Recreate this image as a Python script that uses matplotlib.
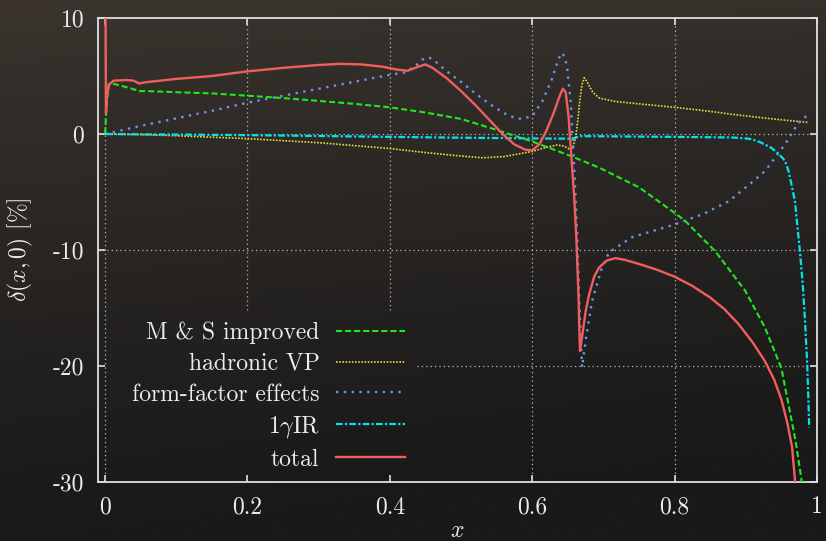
import numpy as np
import matplotlib
matplotlib.use("Agg")
import matplotlib.pyplot as plt

# ---------------- data ----------------
ms_x = [0.0, 0.002, 0.005, 0.01, 0.02, 0.035, 0.048, 0.06, 0.1, 0.15, 0.2, 0.25, 0.3, 0.35,
        0.4, 0.45, 0.5, 0.55, 0.6, 0.624, 0.65, 0.694, 0.75, 0.8, 0.815, 0.857, 0.899, 0.927,
        0.95, 0.959, 0.97, 0.98]
ms_y = [0.0, 2.5, 4.3, 4.35, 4.2, 3.95, 3.7, 3.7, 3.6, 3.5, 3.3, 3.1, 2.85, 2.6,
        2.3, 1.85, 1.3, 0.35, -0.65, -1.2, -1.8, -2.9, -4.6, -6.8, -7.5, -10.1, -13.5, -16.7,
        -20.2, -23.0, -26.5, -30.5]

vp_x = [0.0, 0.05, 0.1, 0.2, 0.3, 0.4, 0.45, 0.5, 0.53, 0.56, 0.6, 0.62, 0.635, 0.645,
        0.652, 0.657, 0.661, 0.664, 0.667, 0.67, 0.673, 0.677, 0.685, 0.694, 0.717, 0.75,
        0.8, 0.85, 0.88, 0.93, 0.987]
vp_y = [0.0, -0.05, -0.15, -0.4, -0.75, -1.25, -1.6, -1.9, -2.05, -1.95, -1.5, -1.15, -0.95, -1.05,
        -1.3, -1.2, -0.3, 1.2, 3.0, 4.3, 4.85, 4.5, 3.6, 3.1, 2.8, 2.6,
        2.3, 1.95, 1.7, 1.35, 1.0]

ff_x = [0.0, 0.05, 0.1, 0.15, 0.2, 0.25, 0.3, 0.35, 0.4, 0.42, 0.435, 0.445, 0.455, 0.465,
        0.48, 0.5, 0.52, 0.54, 0.56, 0.575, 0.585, 0.6, 0.614, 0.628, 0.637, 0.642, 0.646,
        0.649, 0.654, 0.659, 0.663, 0.666, 0.67, 0.675, 0.684, 0.698, 0.708, 0.74, 0.8,
        0.84, 0.876, 0.9, 0.927, 0.955, 0.973, 0.985]
ff_y = [0.0, 0.7, 1.35, 2.0, 2.7, 3.3, 3.9, 4.5, 5.1, 5.3, 5.8, 6.4, 6.6, 6.2,
        5.4, 4.5, 3.5, 2.6, 1.8, 1.4, 1.3, 1.55, 2.8, 4.8, 6.5, 7.0, 6.6,
        5.7, 2.8, -2.9, -8.6, -14.4, -20.1, -17.8, -14.4, -11.5, -10.2, -8.9, -7.8,
        -6.9, -5.8, -4.6, -3.2, -0.9, 0.9, 1.55]

ir_x = [0.0, 0.1, 0.2, 0.3, 0.4, 0.5, 0.6, 0.65, 0.66, 0.666, 0.7, 0.8, 0.88, 0.9, 0.908,
        0.92, 0.936, 0.946, 0.955, 0.96, 0.964, 0.969, 0.976, 0.98, 0.983, 0.986, 0.988, 0.989]
ir_y = [0.0, -0.05, -0.1, -0.17, -0.25, -0.32, -0.38, -0.4, -0.35, -0.18, -0.2, -0.25, -0.3, -0.38, -0.45,
        -0.7, -1.2, -1.7, -2.3, -3.2, -4.3, -5.8, -10.1, -13.0, -15.9, -19.5, -23.0, -25.3]

tot_x = [0.0005, 0.0012, 0.003, 0.006, 0.012, 0.03, 0.04, 0.048, 0.055, 0.1, 0.15, 0.2, 0.25,
         0.3, 0.33, 0.36, 0.39, 0.41, 0.425, 0.44, 0.45, 0.46, 0.48, 0.5, 0.52, 0.54, 0.56,
         0.575, 0.59, 0.6, 0.61, 0.62, 0.63, 0.638, 0.643, 0.647, 0.651, 0.655, 0.659, 0.662,
         0.665, 0.667, 0.67, 0.675, 0.68, 0.687, 0.694, 0.705, 0.717, 0.73, 0.75, 0.775, 0.8,
         0.825, 0.85, 0.87, 0.89, 0.91, 0.927, 0.94, 0.95, 0.958, 0.965, 0.97]
tot_y = [12.0, 1.8, 3.5, 4.3, 4.6, 4.65, 4.6, 4.35, 4.45, 4.75, 5.0, 5.4, 5.7,
         5.95, 6.05, 6.0, 5.8, 5.55, 5.45, 5.8, 6.0, 5.7, 4.8, 3.7, 2.5, 1.2, -0.1,
         -0.9, -1.35, -1.4, -0.9, 0.3, 1.8, 3.2, 3.9, 3.6, 1.5, -2.0, -5.5, -9.0,
         -14.0, -18.7, -17.5, -15.3, -13.8, -12.3, -11.5, -10.9, -10.7, -10.85, -11.2, -11.7, -12.3,
         -13.1, -14.1, -15.1, -16.4, -18.0, -19.6, -21.2, -22.9, -24.8, -27.0, -30.5]

labels = ["M & S improved", "hadronic VP", "form-factor effects", r"1$\gamma$IR", "total"]
x_ticks = [0, 0.2, 0.4, 0.6, 0.8, 1.0]
x_ticklabels = ["0", "0.2", "0.4", "0.6", "0.8", "1"]
y_ticks = [-30, -20, -10, 0, 10]
y_ticklabels = ["-30", "-20", "-10", "0", "10"]

# ---------------- style ----------------
plt.rcParams['font.family'] = ['cmr10', 'DejaVu Serif']
plt.rcParams['mathtext.fontset'] = 'cm'
plt.rcParams['axes.unicode_minus'] = False
FS = 17
TXT = '#ececec'
GRID = dict(color='#b8b8b8', lw=0.9, dashes=(1, 2.5), zorder=1)

fig = plt.figure(figsize=(8.26, 5.41), dpi=100)

# chalkboard-like background gradient
bg = fig.add_axes([0, 0, 1, 1], zorder=-10)
ny, nx = 200, 300
yy = np.linspace(0, 1, ny)[:, None]
xx = np.linspace(0, 1, nx)[None, :]
top = np.array([60, 53, 47]) / 255.0
bot = np.array([25, 25, 25]) / 255.0
t = np.clip(yy ** 0.8 + 0.15 * xx, 0, 1)
img = top[None, None, :] * (1 - t[..., None]) + bot[None, None, :] * t[..., None]
bg.imshow(img, aspect='auto', extent=[0, 1, 0, 1], origin='upper')
bg.set_axis_off()

ax = fig.add_axes([98 / 826, (541 - 482) / 541, (817 - 98) / 826, (482 - 18) / 541])
ax.set_facecolor('none')

ax.plot(ms_x, ms_y, color='#1ee81e', lw=1.5, dashes=(2.9, 1.45), label=labels[0], zorder=3)
ax.plot(vp_x, vp_y, color='#e6dc3c', lw=1.2, dashes=(1.0, 0.9), label=labels[1], zorder=3)
ax.plot(ff_x, ff_y, color='#6a96e8', lw=1.7, dashes=(1.0, 2.3), label=labels[2], zorder=3)
ax.plot(ir_x, ir_y, color='#00e4f0', lw=1.6, dashes=(3.0, 1.0, 1.0, 1.0), label=labels[3], zorder=3)
ax.plot(tot_x, tot_y, color='#f25e5e', lw=1.7, label=labels[4], zorder=4)

ax.set_xlim(-0.01, 1.0)
ax.set_ylim(-30, 10)
ax.set_xticks(x_ticks)
ax.set_xticklabels(x_ticklabels)
ax.set_yticks(y_ticks)
ax.set_yticklabels(y_ticklabels)

ax.tick_params(direction='in', length=5, width=1.2, colors='#e0e0e0',
               top=True, right=True, labelsize=FS, pad=10, labelcolor=TXT)
for s in ax.spines.values():
    s.set_color('#e0e0e0')
    s.set_linewidth(1.3)

ax.set_xlabel(r"$x$", fontsize=FS, color=TXT, labelpad=1)
ax.set_ylabel(r"$\delta(x,0)$ [%]", fontsize=FS, color=TXT, labelpad=13)

leg = ax.legend(loc='lower right', bbox_to_anchor=(0.44, 0.004), borderaxespad=0,
                markerfirst=False, fontsize=FS, handlelength=2.9, handletextpad=0.72,
                labelspacing=0.36, borderpad=0.4, frameon=False)
for txt in leg.get_texts():
    txt.set_color(TXT)
for col in leg._legend_handle_box.get_children():
    col.align = 'right'
leg.set_zorder(5)

# grid lines that stop at the (opaque, gnuplot-style) key box
fig.canvas.draw()
lb = leg.get_window_extent().transformed(ax.transAxes.inverted())
lx0 = lb.x0 - 0.005
lx1 = lb.x1 + 0.004
ly1 = lb.y1 + 0.005
xmin_lim, xmax_lim = ax.get_xlim()
ymin_lim, ymax_lim = ax.get_ylim()
for xv in x_ticks[:-1]:
    fx = (xv - xmin_lim) / (xmax_lim - xmin_lim)
    y_start = ly1 if lx0 < fx < lx1 else 0.0
    ax.axvline(xv, ymin=y_start, ymax=1, **GRID)
for yv in y_ticks[1:-1]:
    fy = (yv - ymin_lim) / (ymax_lim - ymin_lim)
    x_start = lx1 if fy < ly1 else 0.0
    ax.axhline(yv, xmin=x_start, xmax=1, **GRID)

fig.savefig('out.png', dpi=100)
